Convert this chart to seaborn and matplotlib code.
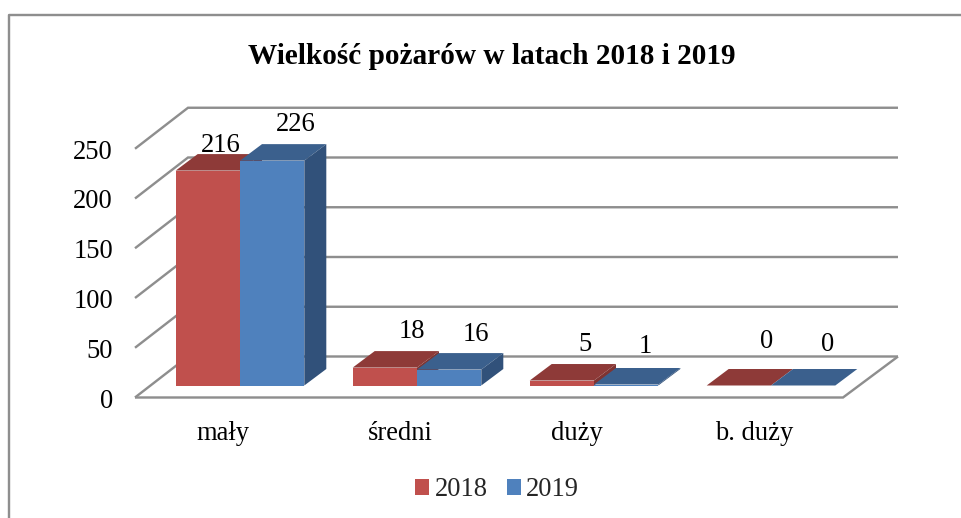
import pandas as pd
import matplotlib
matplotlib.use("Agg")
import matplotlib.pyplot as plt
from matplotlib.lines import Line2D
from matplotlib.patches import Polygon
from matplotlib.transforms import ScaledTranslation
import seaborn as sns

# ---- data ----
categories = ["mały", "średni", "duży", "b. duży"]
values_2018 = [216, 18, 5, 0]
values_2019 = [226, 16, 1, 0]
years = ["2018", "2019"]
value_ticks = [0, 50, 100, 150, 200, 250]
title = "Wielkość pożarów w latach 2018 i 2019"

# ---- styles ----
front_colors = {"2018": "#C0504D", "2019": "#4F81BD"}
top_colors = ["#8E3A38", "#3B608D"]
side_colors = ["#7F3432", "#31517A"]
grid_color = "#8E8E8E"
# label offset (px) from the front-top-centre of each bar, per series
label_offsets = [[(13, 25.5), (27, 36.5), (23, 36.5), (28, 44.5)],
                 [(24, 36.5), (27, 35.5), (19, 38.5), (24, 41)]]

W, H, DPI = 962, 518, 100
PX = 72 / DPI  # points per pixel
FS = 26.5 * PX

sns.set_style("white")
plt.rcParams["font.family"] = ["Liberation Serif", "DejaVu Serif"]

df = pd.DataFrame({
    "kategoria": categories * 2,
    "rok": [years[0]] * 4 + [years[1]] * 4,
    "liczba": values_2018 + values_2019,
})

fig = plt.figure(figsize=(W / DPI, H / DPI), dpi=DPI)
fig.patch.set_facecolor("white")

# axes: the front plane of the 3D box
ax_left, ax_right, ax_bottom, ax_top = 135, 843, 397.5, 90
ax = fig.add_axes([ax_left / W, 1 - ax_bottom / H,
                   (ax_right - ax_left) / W, (ax_bottom - ax_top) / H])

sns.barplot(data=df, x="kategoria", y="liczba", hue="rok", palette=front_colors,
            order=categories, hue_order=years, width=0.7266, gap=0, saturation=1,
            linewidth=0, edgecolor="none", ax=ax, clip_on=False)

# scales
px_x = 177.0           # pixels per category
px_y = 0.995           # pixels per unit
first_center = 240.0   # pixel of first category centre
floor_lift = 12.0      # bars stand 12 px above the front edge of the floor
ax.set_xlim((ax_left - first_center) / px_x, (ax_right - first_center) / px_x)
ax.set_ylim(-floor_lift / px_y, (385.5 - ax_top) / px_y)
ax.set_facecolor("none")
ax.grid(False)
sns.despine(ax=ax, left=True, bottom=True)
ax.set_xlabel("")
ax.set_ylabel("")


def dx(p):
    return p / px_x


def dy(p):
    return p / px_y


# box: walls, floor
x0, x1 = ax.get_xlim()
wall_dx, wall_dy = 53, 41
wall_kw = dict(color=grid_color, lw=2.4 * PX, zorder=0.5, clip_on=False,
               solid_capstyle="butt", solid_joinstyle="miter")
for v in value_ticks:
    base = v - dy(floor_lift)
    ax.plot([x0, x0 + dx(wall_dx), x1 + dx(wall_dx + 2)],
            [base, base + dy(wall_dy), base + dy(wall_dy)], **wall_kw)
ax.plot([x0, x1, x1 + dx(wall_dx + 2)],
        [-dy(floor_lift), -dy(floor_lift), -dy(floor_lift) + dy(wall_dy)], **wall_kw)

# 3D faces, built from the bars themselves
depth_x, depth_y = dx(22), dy(16.5)
for s, container in enumerate(ax.containers):
    z = 1.0 + 0.2 * s
    for i, bar in enumerate(container):
        bar.set_zorder(z)
        l, w, h = bar.get_x(), bar.get_width(), bar.get_height()
        r = l + w
        ax.add_patch(Polygon([(l, h), (r, h), (r + depth_x, h + depth_y), (l + depth_x, h + depth_y)],
                             closed=True, fc=top_colors[s], ec="none", zorder=z + 0.1, clip_on=False))
        ax.add_patch(Polygon([(r, 0), (r + depth_x, depth_y), (r + depth_x, h + depth_y), (r, h)],
                             closed=True, fc=side_colors[s], ec="none", zorder=z + 0.1, clip_on=False))
        off = label_offsets[s][i]
        ax.annotate(str(int(h)), xy=(l + w / 2, h), xytext=(off[0] * PX, off[1] * PX),
                    textcoords="offset points", ha="center", va="center",
                    fontsize=FS, color="black", zorder=5, annotation_clip=False)

# ticks
ax.set_yticks(value_ticks)
ax.tick_params(axis="y", length=0, pad=22 * PX, labelsize=FS, labelcolor="black")
ax.tick_params(axis="x", length=0, pad=23 * PX, labelsize=FS, labelcolor="black")
shift_y = ScaledTranslation(0, -12.5 / DPI, fig.dpi_scale_trans)
shift_x = ScaledTranslation(-17 / DPI, 0, fig.dpi_scale_trans)
for lab in ax.get_yticklabels():
    lab.set_transform(lab.get_transform() + shift_y)
for lab in ax.get_xticklabels():
    lab.set_transform(lab.get_transform() + shift_x)

# title
fig.text(492 / W, 1 - 57 / H, title, ha="center", va="center",
         fontsize=29.3 * PX, fontweight="bold", color="black")

# legend
handles, labels = ax.get_legend_handles_labels()
ax.legend(handles, labels, ncol=2, frameon=False, loc="center",
          bbox_to_anchor=(497 / W, 1 - 490 / H), bbox_transform=fig.transFigure,
          fontsize=FS, handlelength=0.53, handleheight=0.53, handletextpad=0.2,
          columnspacing=0.72, borderpad=0, borderaxespad=0)

# chart frame (left and top edges only are inside the picture)
frame_kw = dict(color=grid_color, lw=2.4 * PX, transform=fig.transFigure, solid_capstyle="butt")
fig.add_artist(Line2D([9 / W, 9 / W, 1], [0, 1 - 15 / H, 1 - 15 / H], **frame_kw))

fig.savefig("out.png", dpi=DPI, facecolor="white")
